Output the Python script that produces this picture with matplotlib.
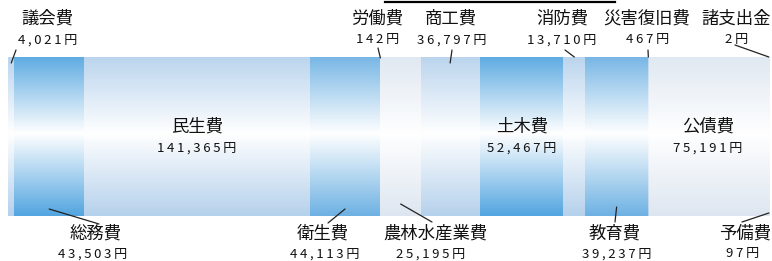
import numpy as np
import matplotlib
matplotlib.use("Agg")
import matplotlib.pyplot as plt
from matplotlib.colors import to_rgb
from matplotlib.lines import Line2D

plt.rcParams['font.family'] = ['Noto Sans CJK JP', 'DejaVu Sans']

# data (歳出の内訳, 単位: 円)
categories = ['議会費', '総務費', '民生費', '衛生費', '労働費', '農林水産業費', '商工費',
              '土木費', '消防費', '教育費', '災害復旧費', '公債費', '諸支出金', '予備費']
values = [4021, 43503, 141365, 44113, 142, 25195, 36797,
          52467, 13710, 39237, 467, 75191, 2, 97]

# styles
DARK, MID, LIGHT, PALE = '#52a5e0', '#6db1e3', '#b5d1ec', '#dde6f0'
colors = [LIGHT, DARK, LIGHT, MID, LIGHT, PALE, LIGHT,
          DARK, LIGHT, MID, LIGHT, PALE, PALE, PALE]

W, H = 772, 261
fig = plt.figure(figsize=(W / 100, H / 100), dpi=100)
bar_x0, bar_x1, bar_top, bar_bot = 8, 769, 57, 216
ax = fig.add_axes([bar_x0 / W, (H - bar_bot) / H, (bar_x1 - bar_x0) / W, (bar_bot - bar_top) / H])

total = sum(values)
lefts = np.concatenate([[0], np.cumsum(values)[:-1]])

# vertical gradient: colour at top/bottom, white in the middle
n = 200
t = np.linspace(0, 1, n)
w = np.clip(1 - np.abs(t - 0.52) / 0.52, 0, 1)  # 1 = white
for left, v, c in zip(lefts, values, colors):
    rgb = np.array(to_rgb(c))
    img = rgb[None, :] * (1 - w[:, None]) + w[:, None]
    img = img[:, None, :]
    ax.imshow(img, extent=(left, left + v, 0, 1), origin='lower',
              aspect='auto', interpolation='bilinear')

ax.set_xlim(0, total)
ax.set_ylim(0, 1)
ax.axis('off')


def spaced(s):
    return '\u2009'.join(s)


def fmt(v):
    return spaced(f'{v:,}円')


# label layout: (category, name xy, value xy, bar-end y px, outer end xy) in pixels
inside = {'民生費': 197, '土木費': 522, '公債費': 708}
outside = {
    '議会費': ((47, 19), (48, 40), 63, (16, 50)),
    '労働費': ((377, 19), (378, 40), 58, (378, 48)),
    '商工費': ((451, 19), (452, 40), 63, (452, 50)),
    '消防費': ((562, 19), (562, 40), 57, (565, 50)),
    '災害復旧費': ((647, 19), (648, 40), 57, (648, 50)),
    '諸支出金': ((736, 19), (737, 40), 57, (735, 45)),
    '総務費': ((96, 234), (93, 254), 209, (99, 224)),
    '衛生費': ((323, 234), (325, 254), 209, (328, 223)),
    '農林水産業費': ((435, 234), (431, 254), 204, (432, 222)),
    '教育費': ((615, 234), (617, 254), 207, (615, 222)),
    '予備費': ((745, 234), (743, 254), 213, (742, 222)),
}

name_size, val_size = 12.5, 9.5
txt = dict(ha='center', va='center', color='#111')
for cat, left, v in zip(categories, lefts, values):
    label = fmt(v)
    if cat in inside:
        x = inside[cat]
        fig.text(x / W, 1 - 127 / H, cat, fontsize=name_size, **txt)
        fig.text(x / W, 1 - 148 / H, label, fontsize=val_size, **txt)
        continue
    (nx, ny), (vx, vy), by, (ox, oy) = outside[cat]
    fig.text(nx / W, 1 - ny / H, cat, fontsize=name_size, **txt)
    fig.text(vx / W, 1 - vy / H, label, fontsize=val_size, **txt)
    yfrac = (bar_bot - by) / (bar_bot - bar_top)
    ax.annotate('', xy=(left + v / 2, yfrac), xycoords='data',
                xytext=(ox, H - oy), textcoords='figure pixels',
                arrowprops=dict(arrowstyle='-', color='#222', lw=0.9, shrinkA=0, shrinkB=0),
                annotation_clip=False)

# line at the top
fig.add_artist(Line2D([385 / W, 615 / W], [1 - 2 / H, 1 - 2 / H], color='black', lw=1.6))

fig.savefig('out.png', dpi=100)
